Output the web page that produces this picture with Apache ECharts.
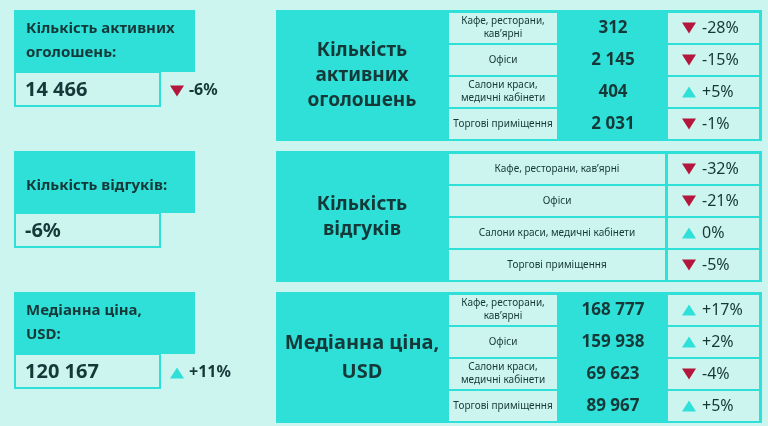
<!DOCTYPE html>
<html><head><meta charset="utf-8">
<script src="https://cdn.jsdelivr.net/npm/echarts@6/dist/echarts.min.js"></script>
<style>html,body{margin:0;padding:0;background:#cdf5ef}#c{width:768px;height:426px}</style>
</head><body><div id="c"></div>
<script>
const summaryTitles = ['Кількість активних\nоголошень:', 'Кількість відгуків:', 'Медіанна ціна,\nUSD:'];
const summaryValues = ['14 466', '-6%', '120 167'];
const summaryChanges = [-6, null, 11];
const tableTitles = ['Кількість\nактивних\nоголошень', 'Кількість\nвідгуків', 'Медіанна ціна,\nUSD'];
const categoriesShort = ['Кафе, ресторани,\nкав’ярні', 'Офіси', 'Салони краси,\nмедичні кабінети', 'Торгові приміщення'];
const categoriesWide = ['Кафе, ресторани, кав’ярні', 'Офіси', 'Салони краси, медичні кабінети', 'Торгові приміщення'];
const listingsValues = ['312', '2 145', '404', '2 031'];
const listingsChanges = [-28, -15, 5, -1];
const responsesChanges = [-32, -21, 0, -5];
const priceValues = ['168 777', '159 938', '69 623', '89 967'];
const priceChanges = [17, 2, -4, 5];

const CY = '#2ee0d8', LT = '#cdf5ef', TX = '#153838', RED = '#b3173c';
const F = '"Noto Sans", sans-serif';
const g = [];
function rect(x, y, w, h, fill, stroke) {
  g.push({type:'rect', shape:{x, y, width:w, height:h}, style:{fill, stroke: stroke || null, lineWidth: stroke ? 2 : 0}});
}
function text(x, y, t, size, weight, align, lh) {
  g.push({type:'text', x, y, style:{text:t, fill:TX, font: weight + ' ' + size + 'px ' + F, align: align || 'left', verticalAlign:'middle', lineHeight: lh || size * 1.3}});
}
function tri(x, y, up, s) {
  g.push({type:'polygon', shape:{points: up ? [[x - s, y + s * 0.8], [x + s, y + s * 0.8], [x, y - s * 0.8]] : [[x - s, y - s * 0.8], [x + s, y - s * 0.8], [x, y + s * 0.8]]}, style:{fill: up ? CY : RED}});
}
function fmt(v) { return (v > 0 ? '+' : '') + v + '%'; }

const sy = [10, 151, 292];
for (let i = 0; i < 3; i++) {
  const y = sy[i];
  rect(14, y, 181, 62, CY);
  rect(15, y + 62, 145, 34, LT, CY);
  text(26, y + (i === 1 ? 35 : 31), summaryTitles[i], 15, 'bold', 'left', 24);
  text(25, y + 80, summaryValues[i], 20, 'bold');
  if (summaryChanges[i] !== null) {
    tri(177, y + 81, summaryChanges[i] > 0, 7);
    text(189, y + 80, fmt(summaryChanges[i]), 16, 'bold');
  }
}

const ty = [10, 151, 292];
const tables = [
  {cats: categoriesShort, vals: listingsValues, ch: listingsChanges},
  {cats: categoriesWide, vals: null, ch: responsesChanges},
  {cats: categoriesShort, vals: priceValues, ch: priceChanges}
];
for (let t = 0; t < 3; t++) {
  const y0 = ty[t], T = tables[t];
  rect(276, y0, 486, 131, CY);
  text(362, y0 + 66, tableTitles[t], t === 2 ? 20 : 19, 'bold', 'center', t === 2 ? 29 : 25);
  for (let r = 0; r < 4; r++) {
    const ry = y0 + 3 + r * 32, rh = 30;
    if (T.vals) {
      rect(449, ry, 108, rh, LT);
      text(503, ry + rh / 2, T.cats[r], 10, 'normal', 'center', 13);
      text(613, ry + rh / 2, T.vals[r], 17, 'bold', 'center');
    } else {
      rect(449, ry, 216, rh, LT);
      text(557, ry + rh / 2, T.cats[r], 10, 'normal', 'center');
    }
    rect(668, ry, 91, rh, LT);
    const v = T.ch[r];
    tri(689, ry + rh / 2, v >= 0, 7);
    text(702, ry + rh / 2, v === 0 ? '0%' : fmt(v), 16, 'normal');
  }
}
const chart = echarts.init(document.getElementById('c'));
chart.setOption({backgroundColor: LT, graphic: g});
</script></body></html>
